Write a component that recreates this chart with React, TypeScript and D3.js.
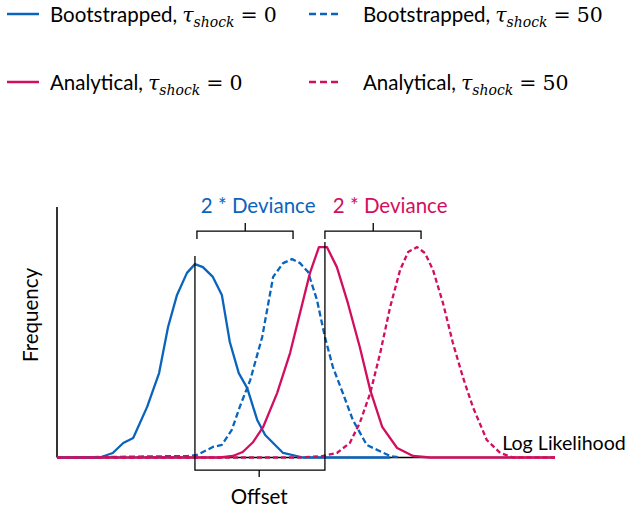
import React from "react";
import * as d3 from "d3";

// ---- data (log-likelihood units, frequency units) ----
const bootX0 = [0, 8.6, 11.2, 13.3, 15.3, 18.1, 20.5, 22.3, 24.1, 26.1, 27.7, 29.3, 31.3, 33.1, 34.7, 36.5, 38.2, 40.2, 41.8, 45.4, 49.4, 66.9];
const bootY0 = [0, 0, 1.8, 5.8, 7.8, 20.2, 33.7, 52.1, 64.9, 73.7, 77.2, 76.0, 72.1, 64.9, 46.1, 33.7, 27.7, 15.0, 9.0, 1.8, 0, 0];

const bootX50 = [0, 26.3, 28.1, 31.3, 33.1, 35.1, 36.7, 38.8, 41.2, 43.4, 45.4, 47.2, 48.8, 50.4, 52.2, 53.8, 55.4, 57.4, 59.4, 62.2, 66.9, 68.9];
const bootY50 = [0, 0.6, 1.0, 4.2, 5.0, 11.0, 20.2, 30.9, 48.1, 72.1, 77.6, 79.2, 77.6, 74.1, 62.9, 48.1, 36.1, 25.7, 15.0, 5.0, 0.6, 0];

const anaX0 = [0, 32.7, 35.3, 37.3, 39.4, 41.4, 44.2, 46.8, 50.8, 52.6, 54.2, 56.2, 58.4, 60.8, 62.9, 65.3, 68.3, 71.5, 74.9, 100];
const anaY0 = [0, 0, 0.6, 2.2, 6.2, 12.2, 25.7, 41.7, 73.7, 84.0, 84.0, 76.0, 61.7, 44.1, 26.9, 12.2, 3.8, 0.6, 0, 0];

const anaX50 = [0, 48.8, 53.4, 56.2, 58.8, 60.8, 62.9, 64.9, 66.9, 68.9, 70.5, 72.3, 73.9, 75.5, 77.5, 79.5, 81.5, 83.5, 86.3, 89.0, 91.6, 100];
const anaY50 = [0, 0, 0.6, 1.8, 5.8, 13.8, 25.7, 41.7, 60.1, 74.9, 82.0, 84.0, 81.6, 74.9, 61.7, 45.7, 32.1, 20.2, 7.0, 1.8, 0, 0];

// annotation values
const markerX = [27.7, 53.8];
const markerTop = [80.4, 86.0];
const devBrackets = [
  { x0: 28.1, x1: 47.4, mid: 37.8, label: "2 * Deviance", labelX: 40.4, color: "#0A64BD" },
  { x0: 53.8, x1: 73.1, mid: 63.5, label: "2 * Deviance", labelX: 66.9, color: "#D20E5E" },
];
const offsetBracket = { x0: 27.7, x1: 53.8, mid: 40.6, label: "Offset" };

const BLUE = "#0A64BD";
const RED = "#D20E5E";

const legendItems = [
  { name: "Bootstrapped,", tau: "0", color: BLUE, dashed: false, col: 0, row: 0 },
  { name: "Bootstrapped,", tau: "50", color: BLUE, dashed: true, col: 1, row: 0 },
  { name: "Analytical,", tau: "0", color: RED, dashed: false, col: 0, row: 1 },
  { name: "Analytical,", tau: "50", color: RED, dashed: true, col: 1, row: 1 },
];

const zip = (xs: number[], ys: number[]) => xs.map((x, i) => [x, ys[i]] as [number, number]);

export default function App() {
  const W = 631;
  const H = 511;
  const x = d3.scaleLinear().domain([0, 100]).range([57, 555]);
  const y = d3.scaleLinear().domain([0, 100]).range([457.5, 207]);
  const line = d3
    .line<[number, number]>()
    .x((d) => x(d[0]))
    .y((d) => y(d[1]));

  const sans = "Lato, 'Liberation Sans', sans-serif";
  const math = "'DejaVu Serif', serif";
  const fs = 20.5;

  const series = [
    { d: zip(bootX0, bootY0), color: BLUE, dash: undefined },
    { d: zip(bootX50, bootY50), color: BLUE, dash: "6,3" },
    { d: zip(anaX0, anaY0), color: RED, dash: undefined },
    { d: zip(anaX50, anaY50), color: RED, dash: "5,3" },
  ];

  const colX = [50, 363];
  const rowY = [22, 90];

  return (
    <svg
      width={W}
      height={H}
      style={{ position: "absolute", left: 0, top: 0, background: "#fff" }}
    >
      {/* legend */}
      {legendItems.map((it, i) => {
        const tx = colX[it.col];
        const ty = rowY[it.row];
        const lx1 = it.dashed ? tx - 54 : tx - 43;
        const lx2 = it.dashed ? tx - 25 : tx - 11;
        return (
          <g key={i}>
            <line
              x1={lx1}
              x2={lx2}
              y1={ty - 8}
              y2={ty - 8}
              stroke={it.color}
              strokeWidth={2.5}
              strokeDasharray={it.dashed ? "7,4" : undefined}
            />
            <text x={tx} y={ty} fontFamily={sans} fontSize={fs} fill="#000">
              {it.name}
              <tspan fontFamily={math} fontStyle="italic" dx={5}>τ</tspan>
              <tspan fontFamily={math} fontStyle="italic" fontSize={14} dy={5}>shock</tspan>
              <tspan fontFamily={math} dy={-5} dx={6}>=</tspan>
              <tspan fontFamily={math} dx={6}>{it.tau}</tspan>
            </text>
          </g>
        );
      })}

      {/* axes */}
      <line x1={x(0)} x2={x(0)} y1={y(0)} y2={y(100)} stroke="#000" strokeWidth={1.6} />
      <line x1={x(0)} x2={x(100)} y1={y(0)} y2={y(0)} stroke="#000" strokeWidth={1.6} />

      {/* curves */}
      {series.map((s, i) => (
        <path
          key={i}
          d={line(s.d) || ""}
          fill="none"
          stroke={s.color}
          strokeWidth={2.3}
          strokeDasharray={s.dash}
          strokeLinejoin="round"
        />
      ))}

      {/* marker lines */}
      {markerX.map((mx, i) => (
        <line
          key={i}
          x1={x(mx)}
          x2={x(mx)}
          y1={y(markerTop[i])}
          y2={y(-1.8)}
          stroke="#000"
          strokeWidth={1.3}
        />
      ))}

      {/* deviance brackets */}
      {devBrackets.map((b, i) => (
        <g key={i}>
          <path
            d={`M${x(b.x0)},${y(87.2)}V${y(90.4)}H${x(b.x1)}V${y(87.2)}M${x(b.mid)},${y(90.4)}V${y(93.6)}`}
            fill="none"
            stroke="#000"
            strokeWidth={1.3}
          />
          <text x={x(b.labelX)} y={y(97.6)} textAnchor="middle" fontFamily={sans} fontSize={fs} fill={b.color}>
            {b.label}
          </text>
        </g>
      ))}

      {/* offset bracket */}
      <path
        d={`M${x(offsetBracket.x0)},${y(-1.8)}V${y(-5)}H${x(offsetBracket.x1)}V${y(-1.8)}M${x(offsetBracket.mid)},${y(-5)}V${y(-7.8)}`}
        fill="none"
        stroke="#000"
        strokeWidth={1.3}
      />
      <text x={x(offsetBracket.mid)} y={y(-18.6)} textAnchor="middle" fontFamily={sans} fontSize={fs} fill="#000">
        {offsetBracket.label}
      </text>

      {/* axis labels */}
      <text x={x(89.4)} y={y(3.0)} fontFamily={sans} fontSize={19.6} fill="#000">
        Log Likelihood
      </text>
      <text
        transform={`translate(38,${315}) rotate(-90)`}
        textAnchor="middle"
        fontFamily={sans}
        fontSize={fs}
        fill="#000"
      >
        Frequency
      </text>
    </svg>
  );
}
